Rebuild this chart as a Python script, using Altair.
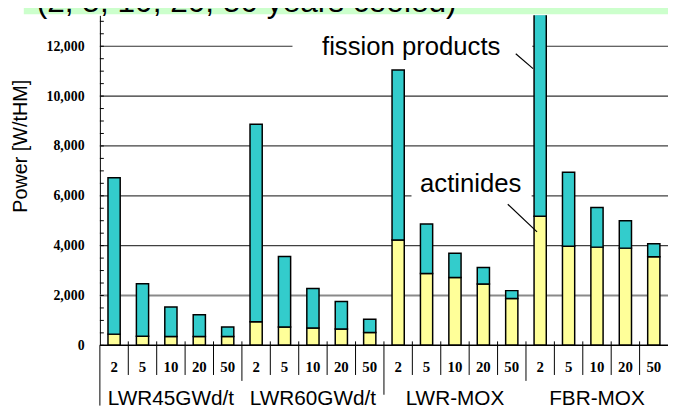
import altair as alt
import pandas as pd

groups = ["LWR45GWd/t", "LWR60GWd/t", "LWR-MOX", "FBR-MOX"]
years = ["2", "5", "10", "20", "50"]

# Decay heat per group, 2/5/10/20/50 years cooled [W/tHM]
actinides = {
    "LWR45GWd/t": [450, 360, 355, 355, 355],
    "LWR60GWd/t": [950, 740, 700, 660, 515],
    "LWR-MOX": [4230, 2885, 2725, 2460, 1880],
    "FBR-MOX": [5180, 3980, 3940, 3900, 3555],
}
fission_products = {
    "LWR45GWd/t": [6270, 2110, 1180, 875, 385],
    "LWR60GWd/t": [7920, 2820, 1580, 1100, 535],
    "LWR-MOX": [6820, 1980, 965, 660, 315],
    "FBR-MOX": [9620, 2960, 1590, 1100, 520],
}

y_ticks = [0, 2000, 4000, 6000, 8000, 10000, 12000]
title_text = "(2, 5, 10, 20, 50 years cooled)"
y_title = "Power [W/tHM]"

W, H = 575, 334
YMAX = 13240
HALF = 0.215

rows, tot_rows, lab_rows = [], [], []
for g, grp in enumerate(groups):
    for k, yr in enumerate(years):
        i = g * 5 + k
        a = actinides[grp][k]
        f = fission_products[grp][k]
        rows.append(dict(xl=i + 0.5 - HALF, xr=i + 0.5 + HALF, y0=0, y1=a, seg="actinides"))
        rows.append(dict(xl=i + 0.5 - HALF, xr=i + 0.5 + HALF, y0=a, y1=a + f, seg="fission products"))
        tot_rows.append(dict(xl=i + 0.5 - HALF, xr=i + 0.5 + HALF, y0=0, y1=a + f))
        lab_rows.append(dict(xc=i + 0.5, year=yr))
bars = pd.DataFrame(rows)
tots = pd.DataFrame(tot_rows)
labs = pd.DataFrame(lab_rows)
grp_df = pd.DataFrame(dict(xc=[g * 5 + 2.5 for g in range(len(groups))], name=groups))

xs = alt.Scale(domain=[0, 20], nice=False, zero=False)
ys = alt.Scale(domain=[0, YMAX], nice=False, zero=True)

yaxis = alt.Axis(
    values=y_ticks, format=",d", grid=False, ticks=False, domain=True,
    domainColor="black", domainWidth=1,
    labelFont="Liberation Serif", labelFontWeight="bold", labelFontSize=14,
    labelColor="black", labelPadding=16,
    title=y_title, titleFont="Liberation Sans", titleFontSize=20,
    titleFontWeight="normal", titleColor="black", titleAngle=270,
    titleX=-74, titleY=132, titleAlign="center", titleBaseline="alphabetic",
)

def X(field):
    return alt.X(field, type="quantitative", scale=xs, axis=None)

def Y(field):
    return alt.Y(field, type="quantitative", scale=ys, axis=yaxis)

# title band (cut off at top)
band = alt.Chart(pd.DataFrame({"t": [title_text]})).mark_rect(color="#CCFFCC").encode(
    x=alt.value(-77), x2=alt.value(W), y=alt.value(-13), y2=alt.value(-1)
)
title = alt.Chart(pd.DataFrame({"t": [title_text]})).mark_text(
    font="Liberation Sans", fontSize=32, align="left", baseline="alphabetic", color="black"
).encode(x=alt.value(-64), y=alt.value(-3), text="t:N")

# gridlines
grid_df = pd.DataFrame(dict(v=[2000, 4000, 6000, 8000, 10000, 12000],
                            c=["#8a8a8a", "#404040", "#404040", "#404040", "#303030", "#303030"],
                            w=[2, 1.2, 1.2, 1.2, 1.2, 1.2]))
grid = alt.Chart(grid_df).mark_rule().encode(
    y=Y("v"),
    x=alt.value(0), x2=alt.value(W),
    color=alt.Color("c:N", scale=None),
    strokeWidth=alt.StrokeWidth("w:Q", scale=None),
)

# white boxes behind annotation texts
mask_df = pd.DataFrame(dict(x0=[6.78, 10.97], x1=[15.22, 15.2], y0=[11300, 5600], y1=[12900, 7300]))
mask = alt.Chart(mask_df).mark_rect(color="white").encode(
    x=X("x0"), x2="x1", y=Y("y0"), y2="y1"
)

# inward minor ticks on y axis
tick_df = pd.DataFrame(dict(v=list(range(0, 13001, 500))))
ticks = alt.Chart(tick_df).mark_rule(color="black", strokeWidth=1).encode(
    y=Y("v"), x=alt.value(0), x2=alt.value(4)
)

shadow = alt.Chart(tots).mark_rect(color="#b5b5b5", clip=True, xOffset=1.5, yOffset=-1.5).encode(
    x=X("xl"), x2="xr", y=Y("y0"), y2="y1"
)
barlayer = alt.Chart(bars).mark_rect(stroke="black", strokeWidth=1.5, clip=True).encode(
    x=X("xl"), x2="xr", y=Y("y0"), y2="y1",
    color=alt.Color("seg:N", scale=alt.Scale(domain=["actinides", "fission products"],
                                             range=["#FFFF99", "#33CCCC"]), legend=None),
)

# x axis line and category separators
xline = alt.Chart(pd.DataFrame({"a": [0], "b": [20]})).mark_rule(color="black", strokeWidth=1.5).encode(
    x=X("a"), x2="b", y=alt.value(H)
)
seps = alt.Chart(pd.DataFrame(dict(p=[p for p in range(1, 20) if p % 5]))).mark_rule(
    color="black", strokeWidth=1).encode(x=X("p"), y=alt.value(330), y2=alt.value(364))
seps_long = alt.Chart(pd.DataFrame(dict(p=[5, 15]))).mark_rule(color="black", strokeWidth=1).encode(
    x=X("p"), y=alt.value(330), y2=alt.value(370)
)
sep_mid = alt.Chart(pd.DataFrame(dict(p=[10]))).mark_rule(color="black", strokeWidth=1).encode(
    x=X("p"), y=alt.value(330), y2=alt.value(384)
)
left_line = alt.Chart(pd.DataFrame(dict(p=[0]))).mark_rule(color="black", strokeWidth=1).encode(
    x=X("p"), y=alt.value(H), y2=alt.value(395)
)

year_text = alt.Chart(labs).mark_text(
    font="Liberation Serif", fontWeight="bold", fontSize=15, color="black",
    align="center", baseline="alphabetic"
).encode(x=X("xc"), y=alt.value(361), text="year:N")

group_text = alt.Chart(grp_df).mark_text(
    font="Liberation Sans", fontSize=21, color="black", align="center", baseline="alphabetic"
).encode(x=X("xc"), y=alt.value(394), text="name:N")

# annotations
ann_lines = pd.DataFrame(dict(x0=[14.64, 14.36], x1=[15.25, 15.39], y0=[11700, 5660], y1=[11100, 4550]))
leaders = alt.Chart(ann_lines).mark_rule(color="black", strokeWidth=1.2).encode(
    x=X("x0"), x2="x1", y=Y("y0"), y2="y1"
)
ann_txt = pd.DataFrame(dict(x=[7.82, 11.27], y=[11650, 6170], t=["fission products", "actinides"]))
ann_text = alt.Chart(ann_txt).mark_text(
    font="Liberation Sans", fontSize=26, color="black", align="left", baseline="alphabetic"
).encode(x=X("x"), y=Y("y"), text="t:N")

chart = alt.layer(
    band, title, grid, mask, ticks, shadow, barlayer, xline, seps, seps_long, sep_mid,
    left_line, year_text, group_text, leaders, ann_text
).properties(
    width=W, height=H,
    autosize=alt.AutoSizeParams(type="none"),
    padding={"left": 93, "top": 5, "right": 0, "bottom": 61},
).configure_view(strokeWidth=0)

chart.save("out.html", embed_options={"renderer": "svg", "actions": False})
